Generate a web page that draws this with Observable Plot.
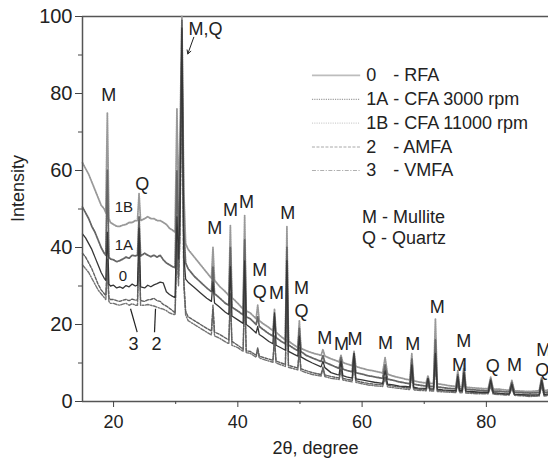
<!DOCTYPE html>
<html><head><meta charset="utf-8">
<script src="https://cdn.jsdelivr.net/npm/d3@7"></script>
<script src="https://cdn.jsdelivr.net/npm/@observablehq/plot@0.6"></script>
<style>
body{margin:0;background:#fff;}
#chart{width:548px;height:468px;}
</style></head><body><div id="chart"></div>
<script>
// ---- data ----
const twoTheta = [15,15.5,16,16.5,17,17.5,18,18.5,18.75,19,
19.25,19.5,20,20.5,21,21.5,22,22.5,23,23.5,
23.85,24.1,24.35,25,25.5,26,26.5,27,27.5,28,
28.5,29,29.5,29.9,30.2,30.45,30.7,31,31.3,31.6,
32,33,34,35,35.75,36,36.25,37,38,38.55,
38.8,39.05,40,40.85,41.1,41.35,42,42.95,43.2,43.45,
44,45,45.65,45.9,46.15,47,47.65,47.9,48.15,49,
49.65,49.9,50.15,51,52,53.4,53.7,54,55,56,
56.3,56.6,56.9,57.5,58.4,58.7,59,60,61,62,
63.3,63.7,64.1,65,66,67,67.7,68,68.3,69,
70.3,70.6,70.9,71.5,71.8,72.1,73,74,75.1,75.4,
75.7,76.1,76.4,76.7,77.5,79,80.3,80.7,81.1,82,
83,83.7,84.1,84.5,85.5,87,88.5,88.9,89.3,90];

const I_RFA = [43.5,42.5,41,39.5,37.5,35.5,33.5,32,31.5,44,
30.5,30,30.2,29.5,29.8,29.4,30.1,29.8,30.5,30,
30.2,45,29.8,29.5,30.2,29.8,30.3,30.6,31,30.8,
28.5,27.8,27.3,27,48,37,50,97,38,31.8,
31,29.6,28.2,26.8,26,31,25.6,24.6,23.2,22.6,
35,22.2,21.2,20.3,36.5,20,19.2,17.8,19.5,17.4,
16.8,15.6,15,23,14.6,13.9,13.3,36.6,13,12.3,
11.8,17,11.6,10.8,10,9,10.5,8.8,7.5,7,
6.9,10.5,6.7,6.4,6.1,12.5,5.9,5.6,5.3,5.0,
4.7,8,4.5,4.3,4.0,3.9,3.8,9.5,3.7,3.5,
3.4,6,3.3,3.3,12.5,3.2,3,2.9,2.8,6.5,
2.8,2.8,7.5,2.7,2.6,2.4,2.4,5.5,2.3,2.2,
2.0,2.0,4.5,1.9,1.8,1.7,1.8,5.5,1.8,2];

const I_CFA3000 = [50.5,49,47.5,45.5,44,42,40,38.5,38,60,
37.5,37,36.8,36.3,36.6,37,37.5,37.2,38,37.8,
38,48,37.8,38.5,38,37.6,38,37.5,38,36.8,
36,35.5,35,34.8,60,42,55,99,45,36,
34.5,32.5,31,29.5,28.5,35,28,27,25.5,25,
40,24.5,23.5,22.5,42,22,21.5,20,22,19.5,
18.8,17.6,17,22,16.6,15.6,15,40,14.7,13.8,
13.2,19,13,12,11.3,10.4,12,10.2,9.5,8.8,
8.6,11.4,8.4,8.1,7.7,12.5,7.5,7.1,6.7,6.4,
6,9.5,5.8,5.5,5.1,4.8,4.6,11,4.5,4.3,
4,6,3.9,3.9,16,3.8,3.6,3.4,3.3,7,
3.3,3.2,8.5,3.2,3.1,2.9,2.8,5.8,2.7,2.7,
2.5,2.5,5,2.4,2.3,2.2,2.3,5.8,2.3,2.5];

const I_CFA11000 = [62,60.5,59,57,55,53,51,50,49,75,
47.5,46.5,46,45.5,45.5,45.8,46,46.5,46.5,47,
47,54,47,47.5,48,47.5,47.5,47,47,46.5,
46,45,44.5,44,76,50,70,100,55,41,
39.5,37.5,35.5,33.5,32,40,31.5,30,28.5,27.5,
45.7,27,25.5,24,48.3,23.5,23,21.5,25,21,
20.3,19.2,18.4,24,18,16.8,16,45.4,15.7,14.7,
14,21,13.8,13.2,12.6,12,13.5,11.8,11.1,10.5,
10.3,12,10.1,9.8,9.3,13,9.1,8.6,8.2,7.9,
7.4,11.4,7.1,6.6,6.2,5.8,5.6,12.4,5.4,5.1,
4.8,6.7,4.7,4.7,21.5,4.6,4.4,4.1,3.9,8,
3.9,3.8,9.8,3.7,3.6,3.4,3.3,6.3,3.2,3.2,
3,2.9,5.5,2.8,2.7,2.6,2.8,6.3,2.8,3];

const I_AMFA = [38.5,37.5,36,34.5,32.5,30.5,29,28,27.5,37,
27,26.5,26.5,26.2,26,26.3,26.5,26.2,26.6,26.3,
26.4,40,26.2,26,26.4,26.5,26.8,26.2,26,25.2,
24.8,24.2,23.6,23,42,32,45,96,32,23.5,
22,21,20,19,18.3,25,18,17.5,16.5,16,
28,15.6,14.6,13.6,30,13.2,13,12,14,11.8,
11.5,11,10.7,17,10.5,10,9.6,28,9.4,9,
8.7,14,8.5,8,7.5,7,9,6.9,6.5,6.2,
6.1,8.5,6,5.8,5.5,10,5.4,5,4.7,4.5,
4.3,6.5,4.2,4,3.8,3.6,3.5,7.5,3.4,3.2,
3.1,5,3,3,10,2.9,2.8,2.7,2.6,5,
2.6,2.5,6,2.5,2.4,2.2,2.2,4.5,2.1,2,
1.9,1.9,3.8,1.8,1.7,1.5,1.6,4.5,1.6,1.8];

const I_VMFA = [35.5,34.5,33.5,32,30.5,29,28,27,26.5,34,
26,25.5,25.5,25.2,25,25.3,25.5,25,25.4,25,
25,38,25,25,25.2,25,24.8,24.5,24.2,24,
23.6,23,22.7,22.5,40,30,43,95,30,22.5,
21,20,19,18,17.3,24,17,16.5,15.5,15,
27,14.6,14,13,28,12.7,12.5,11.5,13.5,11.3,
11,10.5,10.2,16,10,9.5,9.1,26,8.9,8.5,
8.2,13,8,7.5,7,6.6,8.5,6.5,6,5.8,
5.7,8,5.6,5.4,5.1,9.5,5,4.6,4.3,4.1,
3.9,6,3.8,3.6,3.4,3.2,3.1,7,3,2.9,
2.8,4.5,2.7,2.7,9,2.6,2.5,2.4,2.3,4.5,
2.3,2.2,5.5,2.2,2.1,2,2,4,1.9,1.8,
1.7,1.7,3.5,1.6,1.5,1.3,1.4,4,1.4,1.6];

const seriesCodes = ["0", "1A", "1B", "2", "3"];
const seriesNames = ["RFA", "CFA 3000 rpm", "CFA 11000 rpm", "AMFA", "VMFA"];
const seriesValues = [I_RFA, I_CFA3000, I_CFA11000, I_AMFA, I_VMFA];

// phase labels above peaks
const peakText = ["M","Q","M","M","M","M","Q","M","M","M","Q","M","M","M","M","M","M","M","M","Q","M","M","Q","M,Q"];
const peakTextX = [19.23,24.6,36.29,38.82,41.4,43.54,43.54,46.22,48.04,50.25,50.25,54.0,56.7,58.85,63.77,68.16,72.09,76.37,75.68,81.03,84.53,89.24,88.98,34.8];
const peakTextY = [79.5,56.5,44.9,49.6,51.8,34.2,28.4,28,48.9,29.3,23.4,16.4,14.8,16.3,15.1,15,24.5,15.6,9.5,9.1,9.5,13.4,8.05,96.6];

// curve tags
const tagText = ["1B", "1A", "0"];
const tagX = [21.65, 21.65, 21.5];
const tagY = [50.6, 40.5, 32.5];
const leaderText = ["3", "2"];
const leaderTextX = [23.2, 26.9];
const leaderTextY = [15, 15];
const leaderX1 = [22.73, 26.75], leaderY1 = [24.1, 24.1];
const leaderX2 = [23.8, 26.59], leaderY2 = [18.0, 18.0];
const arrowX1 = [32.91], arrowY1 = [94.6], arrowX2 = [31.95], arrowY2 = [90.3];

const keyText = ["M - Mullite", "Q - Quartz"];
const keyX = [60.0, 60.0];
const keyY = [47.9, 42.3];

const xMajor = [20, 40, 60, 80], xMinor = [30, 50, 70];
const yMajor = [0, 20, 40, 60, 80, 100], yMinor = [10, 30, 50, 70, 90];

// ---- styles ----
const styles = {
  "0":  {stroke: "#363636", dash: null,            width: 1.3, legend: "#bdbdbd", lw: 1.6},
  "1A": {stroke: "#666666", dash: "1.2,1.1",       width: 1.8, legend: "#a0a0a0", lw: 1.2},
  "1B": {stroke: "#999999", dash: "1.1,1.2",       width: 1.8, legend: "#cfcfcf", lw: 1.2},
  "2":  {stroke: "#606060", dash: "3,1.5",         width: 1.4, legend: "#a8a8a8", lw: 1.0},
  "3":  {stroke: "#737373", dash: "4,1.5,1.2,1.5", width: 1.4, legend: "#b0b0b0", lw: 1.0}
};
const drawOrder = ["1B", "1A", "3", "2", "0"];
const legendRows = [84.7, 78.5, 72.3, 66.1, 60.0];
const legendX1 = 51.93, legendX2 = 59.69, legendTextX = 60.66;

seriesValues.forEach((v, i) => { if (v.length !== twoTheta.length) throw new Error("length mismatch in series " + seriesCodes[i] + ": " + v.length); });
if (peakText.length !== peakTextX.length || peakText.length !== peakTextY.length) throw new Error("peak label mismatch");

const ink = "#222";
const marks = [];
// frame
marks.push(Plot.ruleY([100], {stroke: "#555", strokeWidth: 1.5}));
// curves
for (const code of drawOrder) {
  const idx = seriesCodes.indexOf(code);
  const rows = twoTheta.map((t, i) => ({t, v: seriesValues[idx][i]}));
  const s = styles[code];
  marks.push(Plot.line(rows, {x: "t", y: "v", stroke: s.stroke, strokeWidth: s.width, strokeDasharray: s.dash, strokeLinejoin: "round"}));
}
// axes
marks.push(Plot.ruleX([15], {stroke: "#555", strokeWidth: 1.5}));
marks.push(Plot.ruleY([0], {stroke: "#555", strokeWidth: 1.5}));
marks.push(Plot.axisX({ticks: xMajor, tickSize: 6, tickPadding: 8, label: null, fontSize: 18, stroke: "#444"}));
marks.push(Plot.axisX({ticks: xMinor, tickSize: 3, text: null, label: null, stroke: "#444"}));
marks.push(Plot.axisY({ticks: yMajor, tickSize: 7, tickPadding: 3, label: null, fontSize: 20, stroke: "#444"}));
marks.push(Plot.axisY({ticks: yMinor, tickSize: 4, text: null, label: null, stroke: "#444"}));
marks.push(Plot.text(["2θ, degree"], {frameAnchor: "bottom", dy: 52, fontSize: 18, fill: ink}));
marks.push(Plot.text(["Intensity"], {frameAnchor: "left", dx: -64, dy: 13, rotate: -90, fontSize: 18, fill: ink}));
// peak labels
marks.push(Plot.text(peakText, {x: (d, i) => peakTextX[i], y: (d, i) => peakTextY[i], text: d => d, fontSize: 18, fill: ink}));
marks.push(Plot.arrow([0], {x1: arrowX1, y1: arrowY1, x2: arrowX2, y2: arrowY2, stroke: ink, strokeWidth: 1, headLength: 6}));
// curve tags
marks.push(Plot.text(tagText, {x: (d, i) => tagX[i], y: (d, i) => tagY[i], text: d => d, fontSize: 15, fill: ink}));
marks.push(Plot.text(leaderText, {x: (d, i) => leaderTextX[i], y: (d, i) => leaderTextY[i], text: d => d, fontSize: 18, fill: ink}));
marks.push(Plot.link([0, 1], {x1: i => leaderX1[i], y1: i => leaderY1[i], x2: i => leaderX2[i], y2: i => leaderY2[i], stroke: ink, strokeWidth: 1.2}));
// phase key
marks.push(Plot.text(keyText, {x: (d, i) => keyX[i], y: (d, i) => keyY[i], text: d => d, textAnchor: "start", fontSize: 18, fill: ink}));
// legend
seriesCodes.forEach((code, i) => {
  const s = styles[code];
  marks.push(Plot.link([0], {x1: legendX1, x2: legendX2, y1: legendRows[i], y2: legendRows[i], stroke: s.legend, strokeWidth: s.lw, strokeDasharray: s.dash}));
});
marks.push(Plot.text(seriesCodes, {x: legendTextX, y: (d, i) => legendRows[i], text: d => d, textAnchor: "start", fontSize: 18, fill: ink}));
marks.push(Plot.text(seriesNames, {x: legendTextX, y: (d, i) => legendRows[i], text: d => "- " + d, dx: 27, textAnchor: "start", fontSize: 18, fill: ink}));

const chart = Plot.plot({
  width: 548, height: 468,
  marginLeft: 82, marginRight: 0, marginTop: 16, marginBottom: 67,
  x: {domain: [15, 90]},
  y: {domain: [0, 100]},
  style: {fontFamily: "'Liberation Sans', Arial, sans-serif", fontSize: "18px", color: "#222", background: "#fff"},
  marks
});
document.getElementById("chart").appendChild(chart);
</script></body></html>
